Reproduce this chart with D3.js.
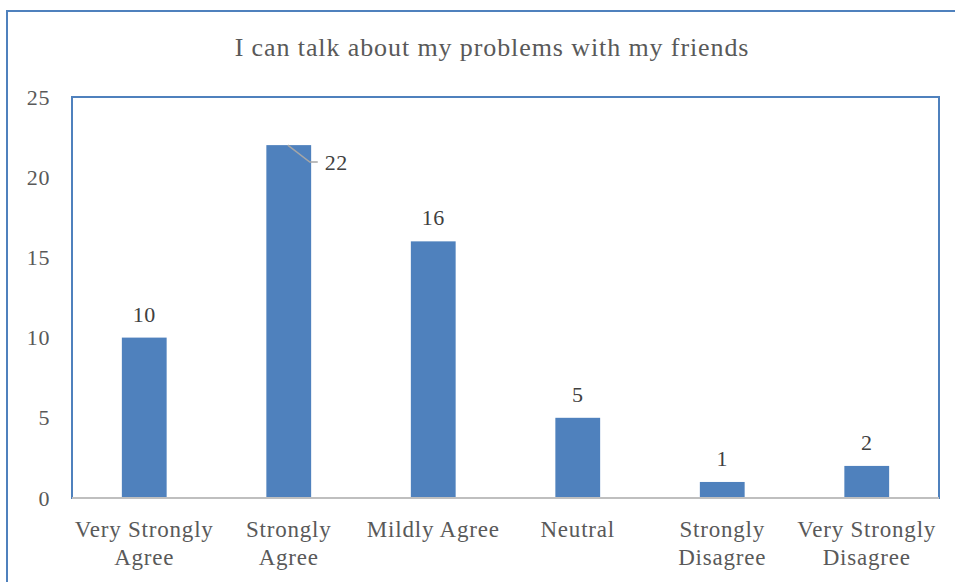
<!DOCTYPE html>
<html>
<head>
<meta charset="utf-8">
<script src="https://cdn.jsdelivr.net/npm/d3@7"></script>
<style>
  html, body { margin: 0; padding: 0; background: #fff; }
  svg { display: block; }
  text { font-family: "Liberation Serif", "DejaVu Serif", serif; }
</style>
</head>
<body>
<svg id="chart" width="955" height="582"></svg>
<script>
// Survey responses: "I can talk about my problems with my friends"
const titleText = "I can talk about my problems with my friends";
const categories = [
  ["Very Strongly", "Agree"],
  ["Strongly", "Agree"],
  ["Mildly Agree"],
  ["Neutral"],
  ["Strongly", "Disagree"],
  ["Very Strongly", "Disagree"]
];
const counts = [10, 22, 16, 5, 1, 2];
const yTicks = [0, 5, 10, 15, 20, 25];

const svg = d3.select("#chart");
const W = 955, H = 582;
const plot = { left: 72, top: 97, right: 939, bottom: 498 };
const blue = "#4F81BD";
const textCol = "#595959";
const labelCol = "#404040";

// Outer chart frame (top and left edges visible)
svg.append("line").attr("x1", 6).attr("x2", W).attr("y1", 11).attr("y2", 11)
  .attr("stroke", blue).attr("stroke-width", 2);
svg.append("line").attr("x1", 7).attr("x2", 7).attr("y1", 10).attr("y2", H)
  .attr("stroke", blue).attr("stroke-width", 2);

// Title
svg.append("text")
  .attr("x", 492).attr("y", 56)
  .attr("text-anchor", "middle")
  .attr("fill", textCol)
  .attr("font-size", 26)
  .attr("letter-spacing", 0.9)
  .text(titleText);

const x = d3.scaleBand()
  .domain(d3.range(categories.length))
  .range([plot.left, plot.right])
  .paddingInner(0.69).paddingOuter(0.345);

const y = d3.scaleLinear().domain([0, 25]).range([plot.bottom, plot.top]);

// Plot area border
svg.append("rect")
  .attr("x", plot.left).attr("y", plot.top)
  .attr("width", plot.right - plot.left).attr("height", plot.bottom - plot.top)
  .attr("fill", "none").attr("stroke", blue).attr("stroke-width", 2);

// Y axis labels
const yAxis = d3.axisLeft(y).tickValues(yTicks).tickSize(0).tickPadding(22);
const gy = svg.append("g").attr("transform", `translate(${plot.left},0)`).call(yAxis);
gy.select(".domain").remove();
gy.selectAll("text")
  .attr("fill", textCol).attr("font-size", 22)
  .attr("letter-spacing", 0.6)
  .style("font-family", "Liberation Serif, DejaVu Serif, serif");

// Bars
svg.append("g").selectAll("rect")
  .data(counts)
  .join("rect")
  .attr("x", (d, i) => x(i))
  .attr("y", d => y(d))
  .attr("width", x.bandwidth())
  .attr("height", d => y(0) - y(d))
  .attr("fill", blue);

// Category axis line
svg.append("line")
  .attr("x1", plot.left).attr("x2", plot.right)
  .attr("y1", plot.bottom).attr("y2", plot.bottom)
  .attr("stroke", "#BFBFBF").attr("stroke-width", 2);

// Category labels (two lines where wrapped)
const gx = svg.append("g");
categories.forEach((lines, i) => {
  const cx = x(i) + x.bandwidth() / 2;
  const t = gx.append("text")
    .attr("x", cx)
    .attr("y", 537)
    .attr("text-anchor", "middle")
    .attr("fill", textCol)
    .attr("font-size", 23)
    .attr("letter-spacing", 0.8);
  lines.forEach((ln, k) => {
    t.append("tspan")
      .attr("x", cx)
      .attr("dy", k === 0 ? 0 : 28)
      .text(ln);
  });
});

// Data labels
counts.forEach((v, i) => {
  const cx = x(i) + x.bandwidth() / 2;
  if (i === 1) {
    // Label moved beside the bar, with a leader line
    svg.append("polyline")
      .attr("points", [[cx - 1, y(v)], [cx + 21, y(v) + 17], [cx + 29, y(v) + 17]].map(p => p.join(",")).join(" "))
      .attr("fill", "none").attr("stroke", "#A6A6A6").attr("stroke-width", 1.5);
    svg.append("text")
      .attr("x", cx + 36).attr("y", y(v) + 25)
      .attr("fill", labelCol).attr("font-size", 22)
      .attr("letter-spacing", 0.6)
      .text(v);
  } else {
    svg.append("text")
      .attr("x", cx).attr("y", y(v) - 16)
      .attr("text-anchor", "middle")
      .attr("fill", labelCol).attr("font-size", 22)
      .attr("letter-spacing", 0.6)
      .text(v);
  }
});
</script>
</body>
</html>
